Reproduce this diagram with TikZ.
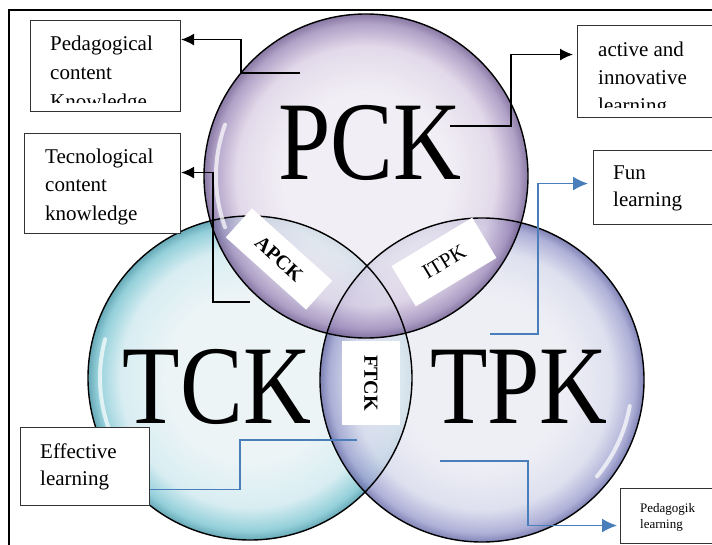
\documentclass[tikz,border=0pt]{standalone}
\usepackage{fontspec}
\setmainfont{Liberation Serif}
\usetikzlibrary{arrows.meta, positioning, shapes.geometric}

\definecolor{pckin}{HTML}{EFEBF3}
\definecolor{pckmid}{HTML}{DCD2E6}
\definecolor{pckout}{HTML}{A08DBB}
\definecolor{pckrim}{HTML}{6F5C90}
\definecolor{tckin}{HTML}{E8F2F5}
\definecolor{tckmid}{HTML}{D0EAF0}
\definecolor{tckout}{HTML}{7DC6D2}
\definecolor{tckrim}{HTML}{4596A7}
\definecolor{tpkin}{HTML}{EBECF4}
\definecolor{tpkmid}{HTML}{D8DAEC}
\definecolor{tpkout}{HTML}{9DA0CF}
\definecolor{tpkrim}{HTML}{6569A6}
\definecolor{linkblue}{HTML}{4A7EBB}

\pgfdeclareradialshading{pckglow}{\pgfpoint{0bp}{0bp}}{color(0bp)=(pckin); color(13bp)=(pckin); color(20bp)=(pckmid); color(23.6bp)=(pckout); color(25bp)=(pckrim); color(50bp)=(pckrim)}
\pgfdeclareradialshading{tckglow}{\pgfpoint{0bp}{0bp}}{color(0bp)=(tckin); color(13bp)=(tckin); color(20bp)=(tckmid); color(23.6bp)=(tckout); color(25bp)=(tckrim); color(50bp)=(tckrim)}
\pgfdeclareradialshading{tpkglow}{\pgfpoint{0bp}{0bp}}{color(0bp)=(tpkin); color(13bp)=(tpkin); color(20bp)=(tpkmid); color(23.6bp)=(tpkout); color(25bp)=(tpkrim); color(50bp)=(tpkrim)}

\begin{document}
\begin{tikzpicture}[
    x=1pt, y=-1pt,
    bubble/.style={circle, minimum size=324pt, inner sep=0pt, fill opacity=0.82},
    rimline/.style={draw=black, line width=1.4pt},
    gloss/.style={draw=white, line width=4pt, draw opacity=0.7, line cap=round},
    bigtext/.style={inner sep=0pt, xscale=0.84, font=\fontsize{112}{112}\selectfont},
    infobox/.style={rectangle, draw=black!80, line width=1.1pt, anchor=north west, fill=white},
    boxtext/.style={inner sep=0pt, align=left, anchor=north west, font=\fontsize{21}{29}\selectfont},
    tag/.style={rectangle, fill=white, inner sep=0pt},
    arrow/.style={-{Latex[length=13pt, width=12pt]}, line width=1.4pt, draw=black},
    bluearrow/.style={-{Latex[length=15pt, width=14pt]}, line width=1.5pt, draw=linkblue},
    blueline/.style={line width=1.5pt, draw=linkblue},
    frame/.style={line width=2pt, draw=black}
  ]
    \clip (0,0) rectangle (712,545);
    \fill[white] (0,0) rectangle (712,545);

    % Frame
    \draw[frame] (9,560) |- (730,10);

    % Bubbles
    \node[bubble, shading=tckglow] (tck) at (250,378) {};
    \node[bubble, shading=tpkglow] (tpk) at (482,380) {};
    \node[bubble, shading=pckglow] (pck) at (366,176) {};
    \foreach \b in {tck,tpk,pck}
      \draw[rimline] (\b.center) circle (162pt);

    % Glossy streaks
    \draw[gloss] ([shift={(165:150pt)}]tck.center) arc[start angle=165, end angle=215, radius=150pt];
    \draw[gloss] ([shift={(160:150pt)}]pck.center) arc[start angle=160, end angle=200, radius=150pt];
    \draw[gloss] ([shift={(-10:150pt)}]tpk.center) arc[start angle=-10, end angle=-40, radius=150pt];

    % Big labels
    \node[bigtext] (pcklabel) at (370,143) {PCK};
    \node[bigtext] (tcklabel) at (217,387) {TCK};
    \node[bigtext] (tpklabel) at (519,387) {TPK};

    % Overlap tags
    \node[tag, minimum width=108pt, minimum height=39pt, rotate=-42, font=\fontsize{20}{20}\selectfont\bfseries] (apck) at (279,259) {APCK};
    \node[tag, minimum width=94pt, minimum height=47pt, rotate=31, font=\fontsize{21}{21}\selectfont] (itpk) at (444,262) {ITPK};
    \node[tag, minimum width=84pt, minimum height=58pt, rotate=-90, font=\fontsize{20}{20}\selectfont\bfseries] (ftck) at (371,383) {FTCK};

    % Boxes
    \node[infobox, minimum width=150pt, minimum height=91pt] (pcbox) at (30,20) {};
    \node[infobox, minimum width=156pt, minimum height=100pt] (tcbox) at (24,133) {};
    \node[infobox, minimum width=160pt, minimum height=92pt] (actbox) at (577,25) {};
    \node[infobox, minimum width=150pt, minimum height=74pt] (funbox) at (593,150) {};
    \node[infobox, minimum width=129pt, minimum height=78pt] (efbox) at (20,427) {};
    \node[infobox, minimum width=120pt, minimum height=55pt] (pedbox) at (620,488) {};

    % Box texts
    \begin{scope}
      \clip (pcbox.north west) rectangle ([yshift=10pt]pcbox.south east);
      \node[boxtext] (pctext) at (50,35.7) {Pedagogical\\content\\Knowledge};
    \end{scope}
    \node[boxtext, font=\fontsize{21}{28.5}\selectfont] (tctext) at (45,148.7) {Tecnological\\content\\knowledge};
    \begin{scope}
      \clip (actbox.north west) rectangle ([yshift=11pt]actbox.south east);
      \node[boxtext, font=\fontsize{21}{28}\selectfont] (acttext) at (598,41.7) {active and\\innovative\\learning};
    \end{scope}
    \node[boxtext, font=\fontsize{21}{27}\selectfont] (funtext) at (613,166) {Fun\\learning};
    \node[boxtext, font=\fontsize{21}{27}\selectfont] (eftext) at (40,443.5) {Effective\\learning};
    \node[boxtext, font=\fontsize{13}{16}\selectfont] (pedtext) at (640,503) {Pedagogik\\learning};

    % Connector ends
    \coordinate (pckleft) at (300,73);
    \coordinate (pckright) at (450,126);
    \coordinate (apckfoot) at (250,302);
    \coordinate (tpktop) at (490,334);
    \coordinate (ftckend) at (357,440);
    \coordinate (tpklow) at (440,461);

    % Connections
    \draw[arrow] (pckleft) -- ++(-59,0) |- ([yshift=26.5pt]pcbox.east);
    \draw[arrow] (apckfoot) -- ++(-37,0) |- ([yshift=11pt]tcbox.east);
    \draw[arrow, shorten >=4pt] (pckright) -- ++(61,0) |- ([yshift=17pt]actbox.west);
    \draw[bluearrow, shorten >=5pt] (tpktop) -- ++(48,0) |- ([yshift=4pt]funbox.west);
    \draw[blueline] ([yshift=-23pt]efbox.east) -- ++(90,0) |- (ftckend);
    \draw[bluearrow, shorten >=3pt] (tpklow) -- ++(88,0) |- ([yshift=-9.5pt]pedbox.west);

\end{tikzpicture}
\end{document}
